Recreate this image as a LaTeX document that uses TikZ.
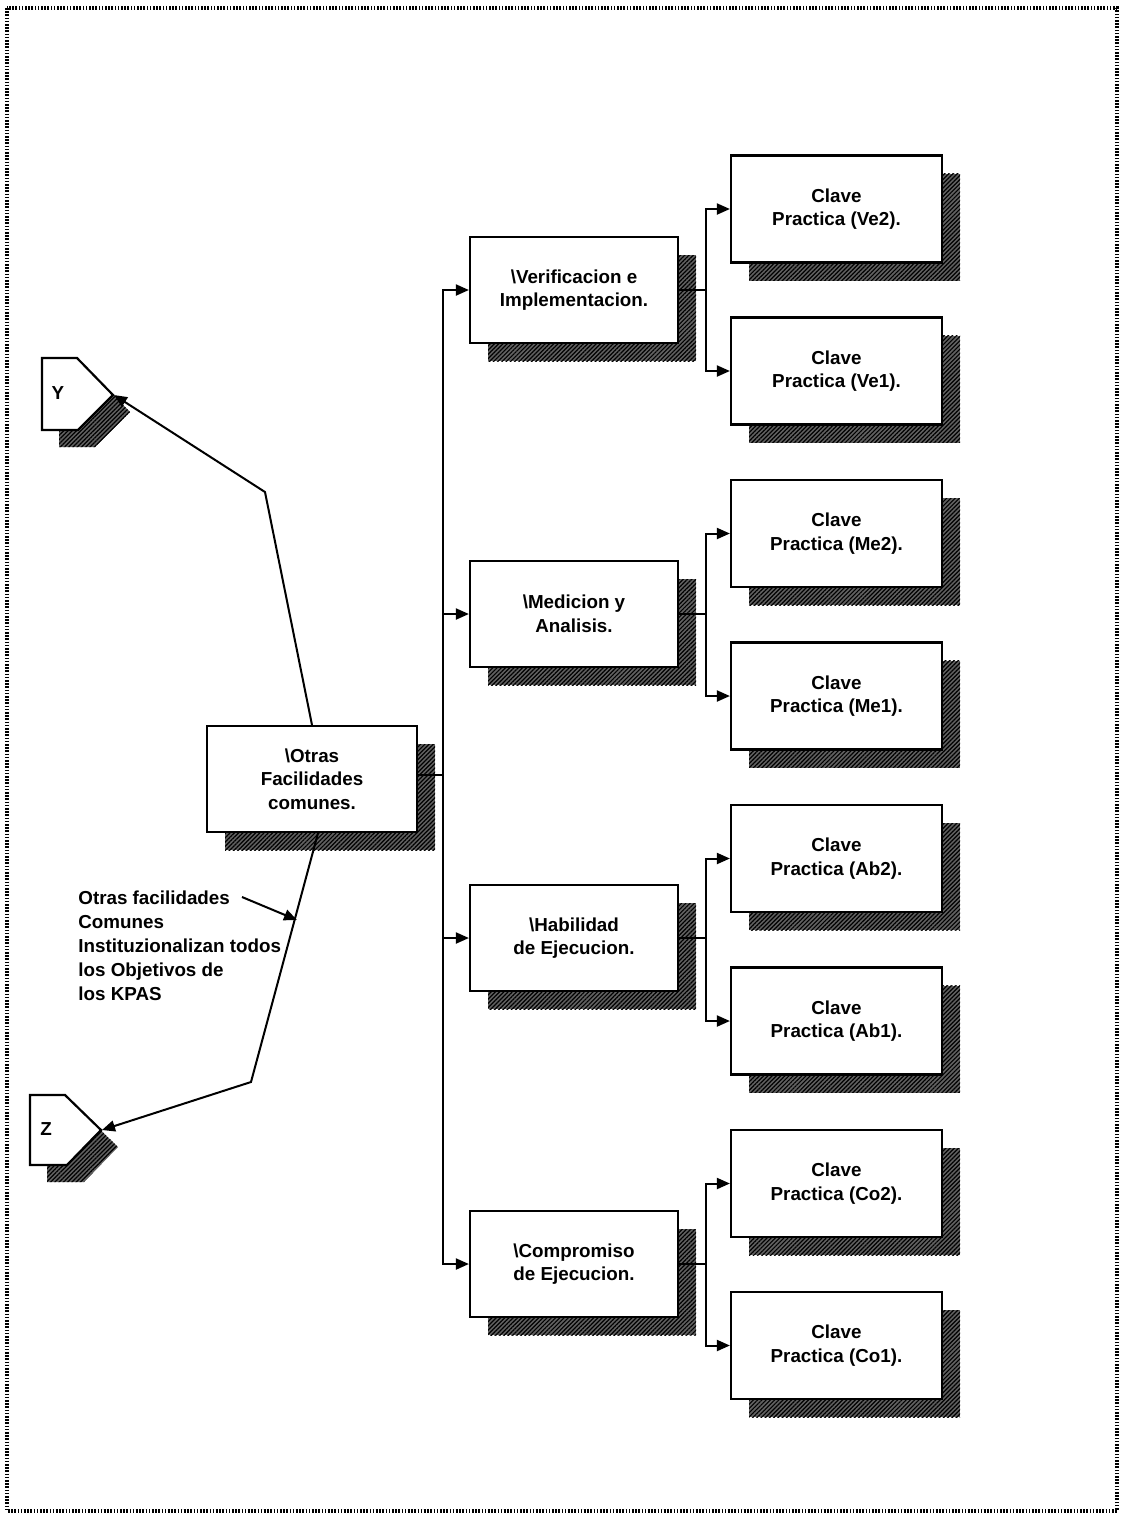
\documentclass[tikz,border=0pt]{standalone}
\usepackage{fontspec}
\setmainfont{Liberation Sans}
\usetikzlibrary{shadows,arrows.meta,patterns.meta}
\begin{document}
\begin{tikzpicture}[x=0.5pt,y=-0.5pt,
  shadowfill/.style={fill=black!62, postaction={pattern={Lines[angle=45,distance=1.5pt,line width=0.6pt]}}},
  labelfont/.style={font=\bfseries\fontsize{9.4}{11.8}\selectfont},
  box/.style={draw, line width=1.1pt, fill=white, minimum width=104pt, minimum height=53pt,
    inner sep=0pt, align=center, labelfont,
    drop shadow={shadow xshift=9pt, shadow yshift=-9pt, opacity=1, shadowfill}},
  leaf/.style={box, minimum width=105.5pt, minimum height=53.5pt},
  conn/.style={line width=1pt},
  arr/.style={conn, -{Triangle[length=6.5pt,width=5.5pt]}},
  tag/.style={line width=1.1pt, fill=white},
]
\useasboundingbox (0,0) rectangle (1122,1517);

% page frame
\draw[line width=2pt, dash pattern=on 0.8pt off 0.8pt] (7,8) rectangle (1117,1511);

% root and second level
\node[box, minimum width=105pt] (otras) at (312,779) {\textbackslash Otras\\Facilidades\\comunes.};
\node[box] (ver) at (574,290)  {\textbackslash Verificacion e\\Implementacion.};
\node[box] (med) at (574,614)  {\textbackslash Medicion y\\Analisis.};
\node[box] (hab) at (574,938)  {\textbackslash Habilidad\\de Ejecucion.};
\node[box] (com) at (574,1264) {\textbackslash Compromiso\\de Ejecucion.};

% key practices
\node[leaf] (ve2) at (836.5,209) {Clave\\Practica (Ve2).};
\node[leaf] (ve1) at (836.5,371) {Clave\\Practica (Ve1).};
\node[leaf] (me2) at (836.5,533.5) {Clave\\Practica (Me2).};
\node[leaf] (me1) at (836.5,696) {Clave\\Practica (Me1).};
\node[leaf] (ab2) at (836.5,858.5) {Clave\\Practica (Ab2).};
\node[leaf] (ab1) at (836.5,1021) {Clave\\Practica (Ab1).};
\node[leaf] (co2) at (836.5,1183.5) {Clave\\Practica (Co2).};
\node[leaf] (co1) at (836.5,1345.5) {Clave\\Practica (Co1).};

% off-page connectors Y and Z
\fill[shadowfill] (59,375) -- (94,375) -- (130,412) -- (95,447) -- (59,447) -- cycle;
\draw[tag] (42,358) -- (77,358) -- (113,395) -- (78,430) -- (42,430) -- cycle;
\node[labelfont] (ylab) at (58,393) {Y};
\coordinate (ytip) at (114,395);

\fill[shadowfill] (47,1112) -- (82,1112) -- (118,1147) -- (84,1182) -- (47,1182) -- cycle;
\draw[tag] (30,1095) -- (65,1095) -- (101,1130) -- (67,1165) -- (30,1165) -- cycle;
\node[labelfont] (zlab) at (46,1129) {Z};
\coordinate (ztip) at (102,1130);

% trunk to second level
\coordinate (spine) at (443,775);
\draw[conn] (otras.east |- spine) -- (spine);
\draw[arr] (spine) |- (ver.west);
\draw[arr] (spine) |- (med.west);
\draw[arr] (spine) |- (hab.west);
\draw[arr] (spine) |- (com.west);

% branches to key practices
\foreach \p/\a/\b in {ver/ve2/ve1, med/me2/me1, hab/ab2/ab1, com/co2/co1}{
  \coordinate (\p-br) at ([xshift=13.5pt]\p.east);
  \draw[conn] (\p.east) -- (\p-br);
  \draw[arr] (\p-br) |- (\a.west);
  \draw[arr] (\p-br) |- (\b.west);
}

% links to Y and Z
\coordinate (ybend) at (265,492);
\coordinate (zbend) at (251,1082);
\draw[arr] (otras.north) -- (ybend) -- (ytip);
\draw[arr] ([xshift=3pt]otras.south) -- (zbend) -- (ztip);

% note
\node[anchor=north west, align=left, inner sep=0pt,
  font=\bfseries\fontsize{9.4}{12}\selectfont] (note) at (78,890)
  {Otras facilidades\\Comunes\\Instituzionalizan todos\\los Objetivos de\\los KPAS};
\coordinate (notefrom) at (242,897);
\coordinate (noteto) at (297,920);
\draw[arr] (notefrom) -- (noteto);
\end{tikzpicture}
\end{document}
